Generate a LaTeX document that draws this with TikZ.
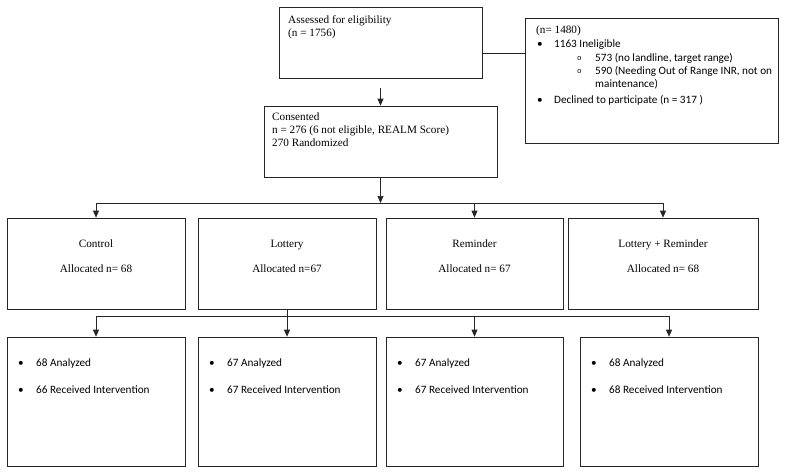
\documentclass[tikz,border=0pt]{standalone}
\usepackage{fontspec}
\setmainfont{Liberation Serif}
\newfontfamily\calfont{Carlito}
\newfontfamily\courfont{Liberation Mono}
\usetikzlibrary{arrows.meta}

\begin{document}
\begin{tikzpicture}[x=1pt,y=-1pt,
	box/.style={draw=black!85,line width=0.7pt,inner sep=0pt},
	link/.style={draw=black!85,line width=0.7pt},
	arr/.style={link,-{Triangle[length=7pt,width=6pt]}},
	txt/.style={anchor=base west,inner sep=0pt,font=\fontsize{11.2}{13}\selectfont},
	ctr/.style={anchor=base,inner sep=0pt,font=\fontsize{11.2}{13}\selectfont},
	cal/.style={anchor=base west,inner sep=0pt,font=\calfont\fontsize{11.2}{13}\selectfont},
	sub/.style={anchor=base west,inner sep=0pt,font=\courfont\fontsize{7.5}{8}\selectfont}]
	    \useasboundingbox (0,0) rectangle (800,474);
	    \node[box,minimum width=203pt,minimum height=71pt] (assess) at (380.5,42.5) {};
	    \node[box,minimum width=253pt,minimum height=125pt] (excl) at (651.5,80.5) {};
	    \node[box,minimum width=233pt,minimum height=71pt] (consent) at (380.5,141.5) {};
	    \node[box,minimum width=178pt,minimum height=91pt] (ctrl) at (96,263.5) {};
	    \node[box,minimum width=178pt,minimum height=91pt] (lott) at (287,263.5) {};
	    \node[box,minimum width=177pt,minimum height=91pt] (remd) at (474.5,263.5) {};
	    \node[box,minimum width=190pt,minimum height=91pt] (both) at (663,263.5) {};
	    \node[box,minimum width=178pt,minimum height=129pt] (res1) at (96,401.5) {};
	    \node[box,minimum width=178pt,minimum height=129pt] (res2) at (287,401.5) {};
	    \node[box,minimum width=177pt,minimum height=129pt] (res3) at (474.5,401.5) {};
	    \node[box,minimum width=178pt,minimum height=129pt] (res4) at (669,401.5) {};

	    \node[txt] (assessA) at (288,23) {Assessed for eligibility};
	    \node[txt] (assessB) at (288,36) {(n = 1756)};
	    \node[txt] (exclA) at (536,33) {(n= 1480)};
	    \node[cal] (exclB) at (537,47) {•};
	    \node[cal] (exclC) at (554,47) {1163 Ineligible};
	    \node[sub] (exclD) at (577,60.5) {o};
	    \node[cal] (exclE) at (595,61) {573 (no landline, target range)};
	    \node[sub] (exclF) at (577,73.5) {o};
	    \node[cal] (exclG) at (595,74) {590 (Needing Out of Range INR, not on};
	    \node[cal] (exclH) at (595,87) {maintenance)};
	    \node[cal] (exclI) at (537,103) {•};
	    \node[cal] (exclJ) at (554,103) {Declined to participate (n = 317 )};
	    \node[txt] (consentA) at (272,120) {Consented};
	    \node[txt] (consentB) at (272,133) {n = 276 (6 not eligible, REALM Score)};
	    \node[txt] (consentC) at (272,146) {270 Randomized};

	    \node[ctr] (ctrlA) at (96,247) {Control};
	    \node[ctr] (ctrlB) at (96,272) {Allocated n= 68};
	    \node[ctr] (lottA) at (287,247) {Lottery};
	    \node[ctr] (lottB) at (287,272) {Allocated n=67};
	    \node[ctr] (remdA) at (474.5,247) {Reminder};
	    \node[ctr] (remdB) at (474.5,272) {Allocated n= 67};
	    \node[ctr] (bothA) at (663,247) {Lottery + Reminder};
	    \node[ctr] (bothB) at (663,272) {Allocated n= 68};

	    \foreach \b/\x/\na/\nr in {res1/7/68/66,res2/198/67/67,res3/386/67/67,res4/580/68/68} {
	        \node[cal] (\b a) at (\x+11,366) {•};
	        \node[cal] (\b b) at (\x+29,366) {\na\ Analyzed};
	        \node[cal] (\b c) at (\x+11,393) {•};
	        \node[cal] (\b d) at (\x+29,393) {\nr\ Received Intervention};
	    }

	    \coordinate (tie) at (500,53);
	    \coordinate (split) at (380.5,203);
	    \coordinate (merge) at (287,316);
	    \draw[link] (assess.east |- tie) -- (excl.west |- tie);
	    \draw[arr] ([yshift=-10pt]assess.south) -- (consent.north);
	    \draw[arr] (consent.south) -- (split);
	    \draw[link] (ctrl.north |- split) -- (both.north |- split);
	    \draw[arr] (ctrl.north |- split) -- (ctrl.north);
	    \draw[arr] (remd.north |- split) -- (remd.north);
	    \draw[arr] (both.north |- split) -- (both.north);
	    \draw[link] (lott.south) -- (merge);
	    \draw[link] (res1.north |- merge) -- (res4.north |- merge);
	    \foreach \b in {res1,res2,res3,res4}
	        \draw[arr] (\b.north |- merge) -- (\b.north);
	\end{tikzpicture}
\end{document}
